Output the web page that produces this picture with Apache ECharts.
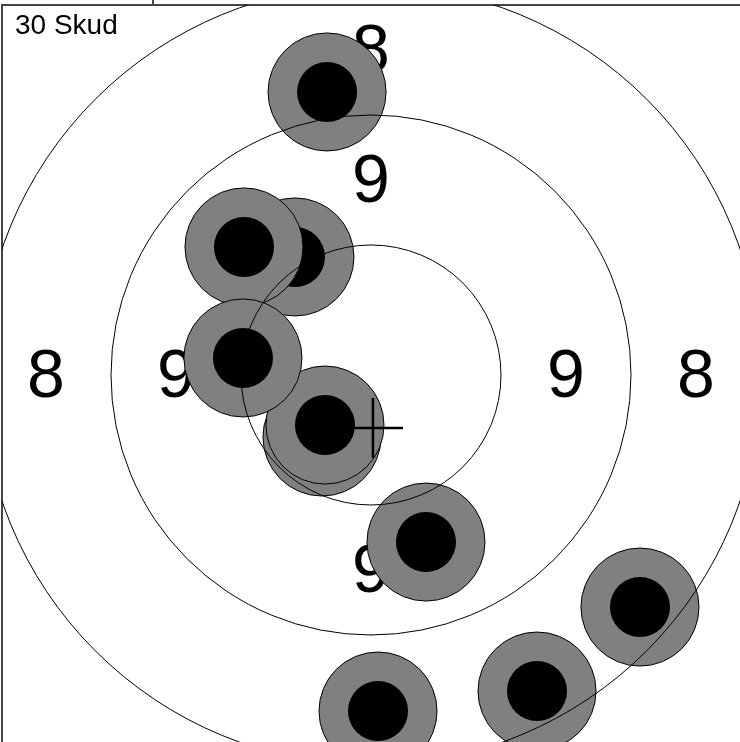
<!DOCTYPE html>
<html>
<head>
<meta charset="utf-8">
<script src="https://cdn.jsdelivr.net/npm/echarts@6/dist/echarts.min.js"></script>
<style>html,body{margin:0;padding:0;background:#fff}#c{width:740px;height:742px}</style>
</head>
<body>
<div id="c"></div>
<script>
// Title
const titleText = '30 Skud';
// Shot centres (target units, 10 units per ring), in drawing order
const shotX = [-3.38, -5.85, -9.77, -3.77, -3.54, -9.85, 4.23, 20.69, 12.77, 0.54];
const shotY = [21.77, 9.08, 9.85, -4.77, -3.85, 1.31, -12.85, -17.85, -24.31, -25.85];
// Mean point of impact
const mpiX = [0.15];
const mpiY = [-4.08];
// Ring circle radii
const ringRadii = [10, 20, 30];
// Ring score labels and their radial positions
const ringLabels = ['9', '8'];
const ringLabelRadii = [15, 25];
// Top-axis tick
const topTicks = [-16.77];

const shotOuterR = 4.54, shotInnerR = 2.31, crossArm = 2.31;

const labelData = [];
ringLabels.forEach((t, i) => {
  const r = ringLabelRadii[i];
  labelData.push([0, r, t], [0, -r, t], [-r, 0, t], [r, 0, t]);
});

const chart = echarts.init(document.getElementById('c'), null, {renderer: 'canvas'});
chart.setOption({
  animation: false,
  backgroundColor: '#fff',
  title: {text: titleText, left: 10, top: 7, textStyle: {fontFamily: 'Liberation Sans', fontSize: 28, fontWeight: 'normal', color: '#000'}},
  grid: {left: 2, top: 5, right: 0, bottom: 0},
  xAxis: {
    type: 'value', position: 'top', min: -28.385, max: 28.385,
    axisLine: {show: true, onZero: false, lineStyle: {color: '#444', width: 2}},
    axisTick: {show: true, customValues: topTicks, length: 5, lineStyle: {color: '#444', width: 2}},
    axisLabel: {show: false}, splitLine: {show: false}
  },
  yAxis: {
    type: 'value', min: -28.23, max: 28.46,
    axisLine: {show: true, onZero: false, lineStyle: {color: '#444', width: 2}},
    axisTick: {show: false}, axisLabel: {show: false}, splitLine: {show: false}
  },
  series: [
    {
      type: 'custom', z: 1, silent: true, clip: true,
      data: labelData,
      renderItem: function (params, api) {
        const c = api.coord([api.value(0), api.value(1)]);
        return {type: 'text', x: c[0], y: c[1] + 3, style: {text: labelData[params.dataIndex][2], font: '68px "Liberation Sans"', fill: '#000', align: 'center', verticalAlign: 'middle'}};
      }
    },
    {
      type: 'custom', z: 2, silent: true, clip: true,
      data: shotX.map((x, i) => [x, shotY[i]]),
      renderItem: function (params, api) {
        const c = api.coord([api.value(0), api.value(1)]);
        const ro = api.size([shotOuterR, 0])[0];
        const ri = api.size([shotInnerR, 0])[0];
        return {type: 'group', children: [
          {type: 'circle', shape: {cx: c[0], cy: c[1], r: ro}, style: {fill: '#808080', stroke: '#000', lineWidth: 1}},
          {type: 'circle', shape: {cx: c[0], cy: c[1], r: ri}, style: {fill: '#000'}}
        ]};
      }
    },
    {
      type: 'custom', z: 3, silent: true, clip: true,
      data: ringRadii.map(r => [0, 0, r]),
      renderItem: function (params, api) {
        const c = api.coord([api.value(0), api.value(1)]);
        const r = api.size([api.value(2), 0])[0];
        return {type: 'circle', shape: {cx: c[0], cy: c[1], r: r}, style: {fill: null, stroke: '#000', lineWidth: 1}};
      }
    },
    {
      type: 'custom', z: 4, silent: true, clip: true,
      data: mpiX.map((x, i) => [x, mpiY[i]]),
      renderItem: function (params, api) {
        const c = api.coord([api.value(0), api.value(1)]);
        const a = api.size([crossArm, 0])[0];
        return {type: 'group', children: [
          {type: 'line', shape: {x1: c[0] - a, y1: c[1], x2: c[0] + a, y2: c[1]}, style: {stroke: '#000', lineWidth: 2.5}},
          {type: 'line', shape: {x1: c[0], y1: c[1] - a, x2: c[0], y2: c[1] + a}, style: {stroke: '#000', lineWidth: 2.5}}
        ]};
      }
    }
  ]
});
</script>
</body>
</html>
